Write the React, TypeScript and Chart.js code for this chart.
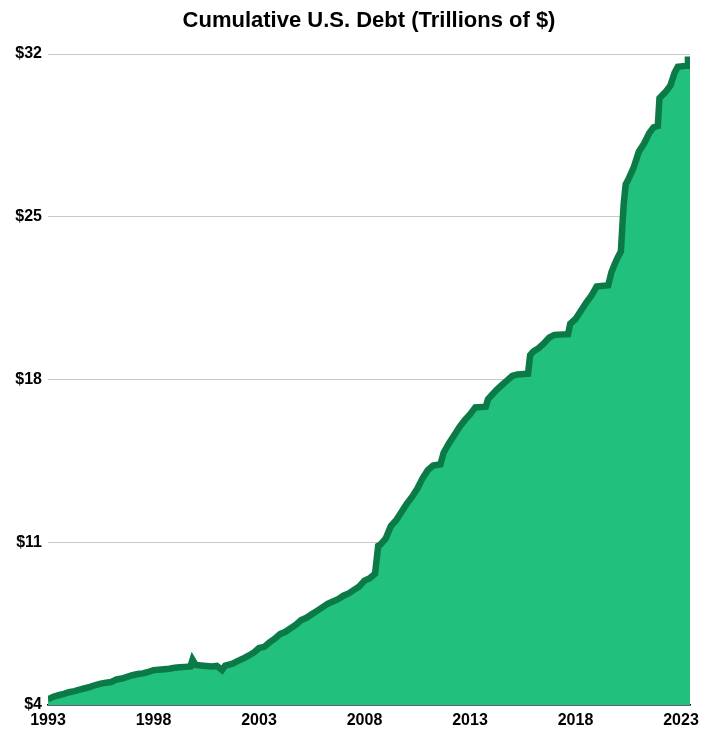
import React, { useEffect, useRef } from "react";
import { Chart, registerables } from "chart.js";

Chart.register(...registerables);

const titleText = "Cumulative U.S. Debt (Trillions of $)";

// Decimal year of each reading
const years: number[] = [
  1993.0, 1993.25, 1993.5, 1993.75, 1994.0, 1994.25, 1994.5, 1994.75,
  1995.0, 1995.25, 1995.5, 1995.75, 1996.0, 1996.25, 1996.5, 1996.75,
  1997.0, 1997.25, 1997.5, 1997.75, 1998.0, 1998.25, 1998.5, 1998.75,
  1999.0, 1999.25, 1999.5, 1999.75, 1999.85, 2000.0, 2000.25, 2000.5,
  2000.75, 2001.0, 2001.25, 2001.4, 2001.75, 2002.0, 2002.25, 2002.5,
  2002.75, 2003.0, 2003.25, 2003.5, 2003.75, 2004.0, 2004.25, 2004.5,
  2004.75, 2005.0, 2005.25, 2005.5, 2005.75, 2006.0, 2006.25, 2006.5,
  2006.75, 2007.0, 2007.25, 2007.5, 2007.75, 2008.0, 2008.25, 2008.5,
  2008.65, 2008.75, 2009.0, 2009.25, 2009.5, 2009.75, 2010.0, 2010.25,
  2010.5, 2010.75, 2011.0, 2011.25, 2011.4, 2011.6, 2011.75, 2012.0,
  2012.25, 2012.5, 2012.75, 2013.0, 2013.25, 2013.75, 2013.85, 2014.0,
  2014.25, 2014.5, 2014.75, 2015.0, 2015.25, 2015.75, 2015.85, 2016.0,
  2016.25, 2016.5, 2016.75, 2017.0, 2017.65, 2017.75, 2018.0, 2018.25,
  2018.5, 2018.75, 2019.0, 2019.55, 2019.7, 2019.85, 2020.0, 2020.15,
  2020.28, 2020.38, 2020.5, 2020.75, 2021.0, 2021.25, 2021.5, 2021.7,
  2021.9, 2021.98, 2022.25, 2022.5, 2022.7, 2022.85, 2023.3, 2023.33,
  2023.43,
];

// Total debt, trillions of dollars
const debt: number[] = [
  4.25, 4.35, 4.42, 4.48, 4.55, 4.6, 4.66, 4.72,
  4.78, 4.86, 4.92, 4.96, 4.99, 5.1, 5.14, 5.21,
  5.28, 5.33, 5.36, 5.42, 5.5, 5.52, 5.54, 5.56,
  5.6, 5.62, 5.64, 5.66, 5.95, 5.72, 5.7, 5.68,
  5.66, 5.68, 5.5, 5.7, 5.78, 5.9, 6.0, 6.12,
  6.25, 6.45, 6.5, 6.7, 6.85, 7.05, 7.15, 7.3,
  7.45, 7.65, 7.75, 7.9, 8.05, 8.2, 8.35, 8.45,
  8.55, 8.7, 8.8, 8.95, 9.1, 9.35, 9.45, 9.65,
  10.85, 10.9, 11.15, 11.7, 11.95, 12.3, 12.65, 12.95,
  13.3, 13.75, 14.1, 14.3, 14.32, 14.35, 14.85, 15.25,
  15.6, 15.95, 16.25, 16.5, 16.8, 16.83, 17.15, 17.3,
  17.55, 17.75, 17.95, 18.15, 18.22, 18.25, 19.05, 19.2,
  19.35, 19.55, 19.8, 19.92, 19.95, 20.4, 20.6, 20.95,
  21.3, 21.6, 22.0, 22.05, 22.6, 22.95, 23.25, 23.5,
  25.5, 26.4, 26.6, 27.1, 27.8, 28.15, 28.6, 28.85,
  28.9, 30.1, 30.35, 30.65, 31.2, 31.45, 31.5, 31.75,
  31.75,
];

const xTickYears: number[] = [1993, 1998, 2003, 2008, 2013, 2018, 2023];
const yTickValues: number[] = [4, 11, 18, 25, 32];

export default function App() {
  const canvasRef = useRef<HTMLCanvasElement | null>(null);

  useEffect(() => {
    document.body.style.margin = "0";
    const canvas = canvasRef.current;
    if (!canvas) return;
    const fontFamily = "'Liberation Sans', Arial, Helvetica, sans-serif";
    const chart = new Chart(canvas, {
      type: "line",
      data: {
        datasets: [
          {
            data: years.map((x, i) => ({ x, y: debt[i] })),
            borderColor: "#0b7a46",
            backgroundColor: "#22c07d",
            borderWidth: 6.5,
            fill: "start",
            pointRadius: 0,
            tension: 0,
          },
        ],
      },
      options: {
        animation: false,
        responsive: false,
        maintainAspectRatio: false,
        layout: { padding: { top: 0, right: 13, bottom: 0, left: 0 } },
        plugins: {
          legend: { display: false },
          tooltip: { enabled: false },
          title: {
            display: true,
            text: titleText,
            fullSize: false,
            color: "#000",
            font: { family: fontFamily, size: 22, weight: "bold" },
            padding: { top: 8, bottom: 19.6 },
          },
        },
        scales: {
          x: {
            type: "linear",
            min: 1993,
            max: 2023.43,
            afterBuildTicks: (scale: any) => {
              scale.ticks = xTickYears.map((v) => ({ value: v }));
            },
            afterFit: (scale: any) => {
              scale.height = 24;
            },
            grid: { display: false, drawTicks: false },
            border: { display: true, color: "#000", width: 1.5 },
            ticks: {
              padding: 6,
              color: "#000",
              maxRotation: 0,
              autoSkip: false,
              font: { family: fontFamily, size: 16, weight: "bold" },
              callback: (v: any) => String(v),
            },
          },
          y: {
            type: "linear",
            min: 4,
            max: 32,
            afterBuildTicks: (scale: any) => {
              scale.ticks = yTickValues.map((v) => ({ value: v }));
            },
            afterFit: (scale: any) => {
              scale.width = 48;
            },
            grid: { color: "#c8c8c8", lineWidth: 1, drawTicks: false },
            border: { display: false },
            ticks: {
              padding: 6,
              color: "#000",
              font: { family: fontFamily, size: 16, weight: "bold" },
              callback: (v: any) => "$" + v,
            },
          },
        },
      },
    });
    return () => chart.destroy();
  }, []);

  return (
    <div style={{ width: 705, height: 729, position: "relative" }}>
      <canvas ref={canvasRef} width={705} height={729} />
    </div>
  );
}
